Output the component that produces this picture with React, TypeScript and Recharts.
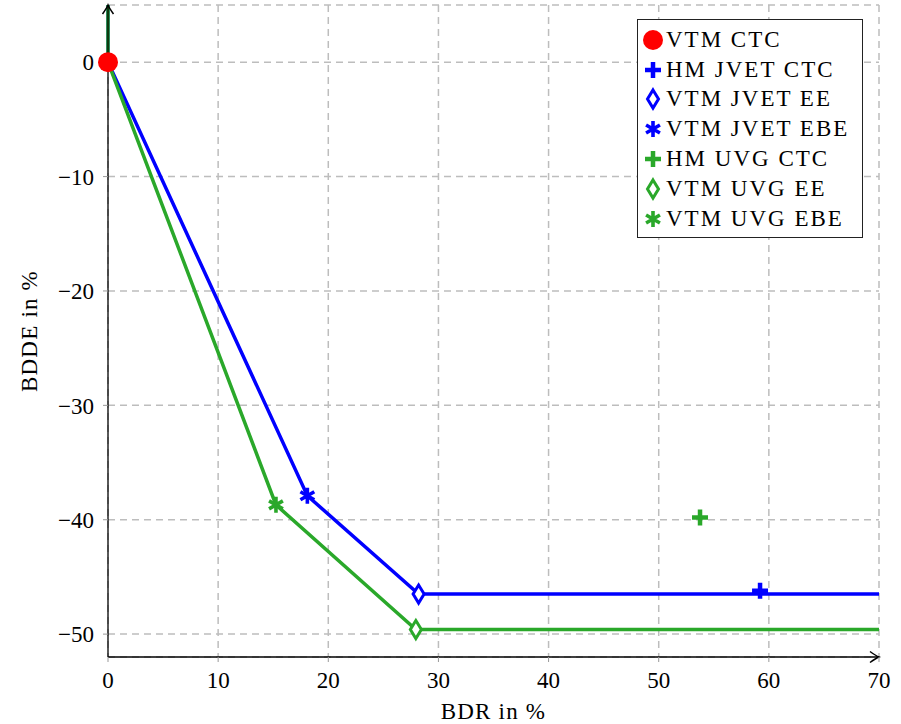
import React from 'react';
import { ComposedChart, Line, Scatter, XAxis, YAxis, CartesianGrid, Label } from 'recharts';

const BLUE = '#0000ff';
const GREEN = '#2aa82a';
const RED = '#ff0000';
const FONT = 'Liberation Serif';

const xTicks = [0, 10, 20, 30, 40, 50, 60, 70];
const yTicks = [-50, -40, -30, -20, -10, 0];

// Pareto fronts
const jvetFrontX = [0, 0, 18.1, 28.2, 70];
const jvetFrontY = [5, 0, -37.9, -46.5, -46.5];
const uvgFrontX = [0, 0, 15.25, 27.95, 70];
const uvgFrontY = [5, 0, -38.7, -49.6, -49.6];

// Individual configurations
const seriesNames = ['VTM CTC', 'HM JVET CTC', 'VTM JVET EE', 'VTM JVET EBE', 'HM UVG CTC', 'VTM UVG EE', 'VTM UVG EBE'];
const seriesX = [0, 59.2, 28.2, 18.1, 53.75, 27.95, 15.25];
const seriesY = [0, -46.2, -46.5, -37.9, -39.8, -49.6, -38.7];
const seriesColors = [RED, BLUE, BLUE, BLUE, GREEN, GREEN, GREEN];
const seriesMarkers = ['circle', 'plus', 'diamond', 'asterisk', 'plus', 'diamond', 'asterisk'];

const jvetFront = jvetFrontX.map((x, i) => ({ x, y: jvetFrontY[i] }));
const uvgFront = uvgFrontX.map((x, i) => ({ x, y: uvgFrontY[i] }));

function Marker({ type, color, cx, cy }: { type: string; color: string; cx: number; cy: number }) {
  if (type === 'circle') return <circle cx={cx} cy={cy} r={10} fill={color} />;
  if (type === 'plus')
    return (
      <path
        d={`M ${cx - 8} ${cy} H ${cx + 8} M ${cx} ${cy - 8} V ${cy + 8}`}
        stroke={color}
        strokeWidth={4.5}
        fill="none"
      />
    );
  if (type === 'diamond')
    return (
      <path
        d={`M ${cx} ${cy - 9} L ${cx + 5.5} ${cy} L ${cx} ${cy + 9} L ${cx - 5.5} ${cy} Z`}
        stroke={color}
        strokeWidth={3}
        fill="#fff"
      />
    );
  // asterisk
  const r = 8;
  const a = r * Math.cos(Math.PI / 6);
  const b = r * Math.sin(Math.PI / 6);
  return (
    <path
      d={`M ${cx} ${cy - r} V ${cy + r} M ${cx - a} ${cy - b} L ${cx + a} ${cy + b} M ${cx - a} ${cy + b} L ${cx + a} ${cy - b}`}
      stroke={color}
      strokeWidth={3.6}
      fill="none"
    />
  );
}

const fmt = (v: number) => (v < 0 ? '\u2212' + Math.abs(v) : String(v));

export default function App() {
  const order = [1, 2, 3, 4, 5, 6, 0];
  return (
    <div style={{ position: 'absolute', left: 0, top: 0, width: 901, height: 724, background: '#fff' }}>
      <svg width={0} height={0} style={{ position: 'absolute' }}>
        <defs>
          <marker
            id="axisArrow"
            viewBox="-12 -7 14 14"
            refX={0}
            refY={0}
            markerWidth={14}
            markerHeight={14}
            markerUnits="userSpaceOnUse"
            orient="auto-start-reverse"
          >
            <path d="M -9 -5.5 Q -3 -1.2 0 0 Q -3 1.2 -9 5.5" fill="none" stroke="#000" strokeWidth={1.5} />
          </marker>
        </defs>
      </svg>
      <ComposedChart width={901} height={724} margin={{ top: 5, right: 22, bottom: 0, left: 0 }}>
        <CartesianGrid stroke="#bdbdbd" strokeDasharray="7 5" strokeWidth={1.5} />
        <XAxis
          type="number"
          dataKey="x"
          domain={[0, 70]}
          ticks={xTicks}
          height={67}
          tickSize={5}
          tickMargin={10}
          tickFormatter={fmt}
          tick={{ fill: '#000', fontSize: 23, fontFamily: FONT }}
          tickLine={{ stroke: '#999' }}
          axisLine={{ stroke: '#000', strokeWidth: 1.3, markerEnd: 'url(#axisArrow)' }}
        >
          <Label
            content={(props: any) => {
              const vb = props.viewBox || {};
              return (
                <text
                  x={vb.x + vb.width / 2}
                  y={vb.y + 62}
                  textAnchor="middle"
                  fontSize={23}
                  fontFamily={FONT}
                  letterSpacing={1.2}
                  fill="#000"
                >
                  BDR in %
                </text>
              );
            }}
          />
        </XAxis>
        <YAxis
          type="number"
          dataKey="y"
          domain={[-52, 5]}
          ticks={yTicks}
          width={108}
          tickSize={5}
          tickMargin={9}
          tickFormatter={fmt}
          tick={{ fill: '#000', fontSize: 23, fontFamily: FONT }}
          tickLine={{ stroke: '#999' }}
          axisLine={{ stroke: '#000', strokeWidth: 1.3, markerStart: 'url(#axisArrow)' }}
        >
          <Label
            content={(props: any) => {
              const vb = props.viewBox || {};
              const cx = 37;
              const cy = vb.y + vb.height / 2;
              return (
                <text
                  x={cx}
                  y={cy}
                  transform={`rotate(-90 ${cx} ${cy})`}
                  textAnchor="middle"
                  fontSize={23}
                  fontFamily={FONT}
                  letterSpacing={1.2}
                  fill="#000"
                >
                  BDDE in %
                </text>
              );
            }}
          />
        </YAxis>
        <Line
          data={jvetFront}
          dataKey="y"
          type="linear"
          stroke={BLUE}
          strokeWidth={3.5}
          dot={false}
          activeDot={false}
          isAnimationActive={false}
          legendType="none"
        />
        <Line
          data={uvgFront}
          dataKey="y"
          type="linear"
          stroke={GREEN}
          strokeWidth={3.5}
          dot={false}
          activeDot={false}
          isAnimationActive={false}
          legendType="none"
        />
        {order.map((i) => (
          <Scatter
            key={seriesNames[i]}
            name={seriesNames[i]}
            data={[{ x: seriesX[i], y: seriesY[i] }]}
            dataKey="y"
            fill={seriesColors[i]}
            isAnimationActive={false}
            shape={(p: any) => <Marker type={seriesMarkers[i]} color={seriesColors[i]} cx={p.cx} cy={p.cy} />}
          />
        ))}
      </ComposedChart>
      <div
        style={{
          position: 'absolute',
          left: 637,
          top: 19,
          width: 226,
          height: 219,
          boxSizing: 'border-box',
          border: '1.5px solid #222',
          background: '#fff',
          fontFamily: FONT,
          fontSize: 23,
          letterSpacing: 2,
          paddingTop: 5,
        }}
      >
        {seriesNames.map((n, i) => (
          <div key={n} style={{ display: 'flex', alignItems: 'center', height: 29.8, whiteSpace: 'nowrap' }}>
            <svg width={28} height={28} style={{ flex: 'none' }}>
              <Marker type={seriesMarkers[i]} color={seriesColors[i]} cx={15} cy={14} />
            </svg>
            <span style={{ marginLeft: 0, lineHeight: '28px' }}>{n}</span>
          </div>
        ))}
      </div>
    </div>
  );
}
